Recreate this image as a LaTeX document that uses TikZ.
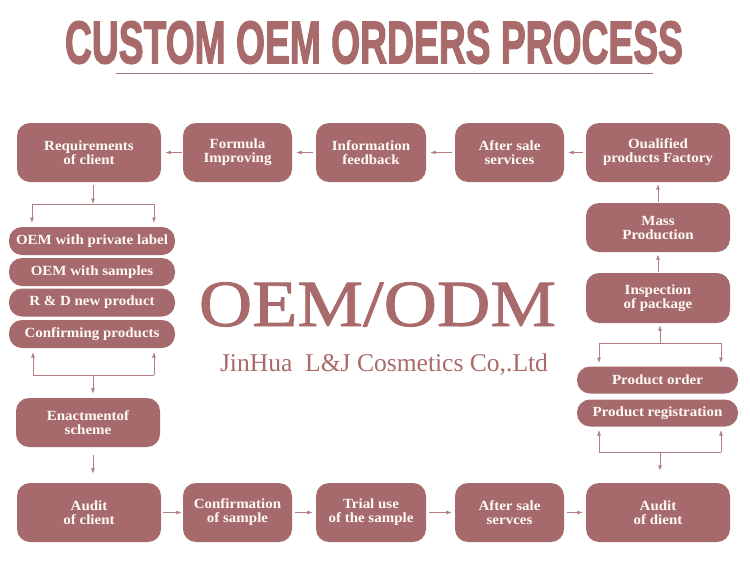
\documentclass[tikz,border=0pt]{standalone}
\usepackage{fontspec}
\usepackage{graphicx}
\setmainfont{Liberation Serif}
\newfontfamily\boxfont{Liberation Serif}[FakeStretch=1.07]
\newfontfamily\titlefont{Liberation Sans}[FakeBold=2.5]
\newfontfamily\oemfont{Liberation Serif}[FakeBold=1.2]
\usetikzlibrary{arrows.meta}
\definecolor{boxc}{RGB}{166,106,108}
\definecolor{linec}{RGB}{180,126,128}
\definecolor{titlec}{RGB}{168,106,106}
\definecolor{rulec}{RGB}{155,123,134}
\definecolor{txtc}{RGB}{255,250,244}
\tikzset{
  stepbox/.style={draw=none, fill=boxc, rounded corners=13pt, text=txtc,
    font=\boxfont\bfseries\fontsize{14}{14}\selectfont, align=center,
    inner sep=0pt, minimum height=59pt},
  pillbox/.style={draw=none, fill=boxc, rounded corners=13pt, text=txtc,
    font=\boxfont\bfseries\fontsize{14}{14}\selectfont, align=center,
    inner sep=0pt, minimum height=27pt},
  conn/.style={draw=linec, line width=0.8pt, -{Latex[length=5.5pt,width=4pt]}},
  plain/.style={draw=linec, line width=0.8pt},
}
\begin{document}
\begin{tikzpicture}[x=1pt,y=-1pt]
\useasboundingbox (0,0) rectangle (750,587);
% title
\node[anchor=south, inner sep=0pt, text=titlec] (title) at (374,64)
  {\resizebox{618pt}{42pt}{\titlefont\bfseries CUSTOM OEM ORDERS PROCESS}};
\coordinate (ul1) at (116,73);
\coordinate (ul2) at (653,73);
\draw[draw=rulec, line width=0.9pt] (ul1) -- (ul2);

% top row
\node[stepbox, minimum width=144pt] (req) at (89,152.5) {Requirements\\of client};
\node[stepbox, minimum width=109pt] (form) at (237.5,152.5) {Formula\\Improving};
\node[stepbox, minimum width=110pt] (info) at (371,152.5) {Information\\feedback};
\node[stepbox, minimum width=109pt] (after1) at (509.5,152.5) {After sale\\services};
\node[stepbox, minimum width=144pt] (qual) at (658,152.5) {Oualified\\products Factory};

% right column
\node[stepbox, minimum width=144pt, minimum height=49pt] (mass) at (658,227.5) {Mass\\Production};
\node[stepbox, minimum width=144pt, minimum height=50pt] (insp) at (658,298) {Inspection\\of package};
\node[pillbox, minimum width=161pt] (porder) at (657.5,380) {Product order};
\node[pillbox, minimum width=161pt] (preg) at (657.5,413) {Product registration};

% left column
\node[pillbox, minimum width=166pt, minimum height=28pt] (p1) at (92,241) {OEM with private label};
\node[pillbox, minimum width=166pt, minimum height=28pt] (p2) at (92,272) {OEM with samples};
\node[pillbox, minimum width=166pt, minimum height=28pt] (p3) at (92,302.5) {R \& D new product};
\node[pillbox, minimum width=166pt, minimum height=28pt] (p4) at (92,334) {Confirming products};
\node[stepbox, minimum width=144pt, minimum height=49pt] (enact) at (88,422.5) {Enactmentof\\scheme};

% bottom row
\node[stepbox, minimum width=144pt] (aud1) at (89,512.5) {Audit\\of client};
\node[stepbox, minimum width=109pt] (conf) at (237.5,512.5) {Confirmation\\of sample};
\node[stepbox, minimum width=110pt] (trial) at (371,512.5) {Trial use\\of the sample};
\node[stepbox, minimum width=109pt] (after2) at (509.5,512.5) {After sale\\servces};
\node[stepbox, minimum width=144pt] (aud2) at (658,512.5) {Audit\\of dient};

% centre texts
\node[anchor=base, inner sep=0pt, text=titlec] (oem) at (377.5,326)
  {\scalebox{1.12}[1]{\oemfont\fontsize{66}{66}\selectfont OEM/ODM}};
\node[anchor=base, inner sep=0pt, text=titlec] (jh) at (384,371)
  {\resizebox{328pt}{!}{\fontsize{26}{26}\selectfont JinHua\ \ L\&J Cosmetics Co,.Ltd}};

% top row arrows (leftwards)
\draw[conn, shorten <=1pt, shorten >=4pt] (form.west) -- (req.east);
\draw[conn, shorten <=3pt, shorten >=4pt] (info.west) -- (form.east);
\draw[conn, shorten <=3pt, shorten >=4pt] (after1.west) -- (info.east);
\draw[conn, shorten <=3pt, shorten >=4pt] (qual.west) -- (after1.east);

% right column arrows (upwards)
\draw[conn, shorten <=1pt, shorten >=2pt] (mass.north) -- (qual.south);
\draw[conn, shorten <=1pt, shorten >=2pt] (insp.north) -- (mass.south);

% right brackets
\coordinate (rt) at (660,343);
\coordinate (rtl) at (599,343);
\coordinate (rtr) at (721,343);
\coordinate (rtld) at (599,363);
\coordinate (rtrd) at (721,363);
\draw[conn, shorten >=2pt] (rt) -- (insp.south -| rt);
\draw[plain] (rtl) -- (rtr);
\draw[conn] (rtl) -- (rtld);
\draw[conn] (rtr) -- (rtrd);
\coordinate (rb) at (660,452);
\coordinate (rbl) at (599,452);
\coordinate (rbr) at (721,452);
\coordinate (rblu) at (599,430);
\coordinate (rbru) at (721,430);
\draw[plain] (rbl) -- (rbr);
\draw[conn] (rbl) -- (rblu);
\draw[conn] (rbr) -- (rbru);
\draw[conn, shorten >=12pt] (rb) -- (aud2.north -| rb);

% left brackets
\coordinate (lt) at (93,204);
\coordinate (ltl) at (32,204);
\coordinate (ltr) at (154,204);
\coordinate (ltld) at (32,223);
\coordinate (ltrd) at (154,223);
\draw[conn, shorten <=3pt] (req.south -| lt) -- (lt);
\draw[plain] (ltl) -- (ltr);
\draw[conn] (ltl) -- (ltld);
\draw[conn] (ltr) -- (ltrd);
\coordinate (lb) at (93,375);
\coordinate (lbl) at (33,375);
\coordinate (lbr) at (154,375);
\coordinate (lblu) at (33,352);
\coordinate (lbru) at (154,352);
\draw[plain] (lbl) -- (lbr);
\draw[conn] (lbl) -- (lblu);
\draw[conn] (lbr) -- (lbru);
\draw[conn, shorten >=4pt] (lb) -- (enact.north -| lb);
\draw[conn, shorten <=8pt, shorten >=9pt] (enact.south -| lb) -- (aud1.north -| lb);

% bottom row arrows (rightwards)
\draw[conn, shorten <=2pt, shorten >=1pt] (aud1.east) -- (conf.west);
\draw[conn, shorten <=3pt, shorten >=3pt] (conf.east) -- (trial.west);
\draw[conn, shorten <=3pt, shorten >=3pt] (trial.east) -- (after2.west);
\draw[conn, shorten <=3pt, shorten >=3pt] (after2.east) -- (aud2.west);
\end{tikzpicture}
\end{document}
